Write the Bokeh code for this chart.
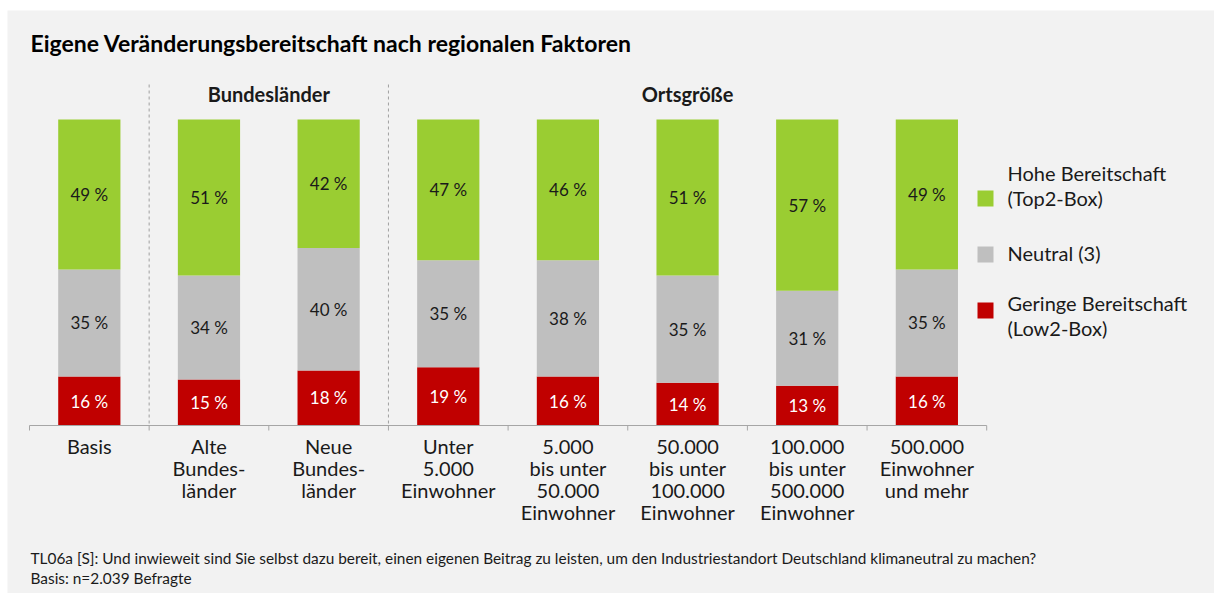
from bokeh.plotting import figure
from bokeh.models import Range1d
from bokeh.core.properties import value
from bokeh.embed import file_html
from bokeh.resources import INLINE

# ---------------- data ----------------
categories = [
    "Basis",
    "Alte\nBundes-\nländer",
    "Neue\nBundes-\nländer",
    "Unter\n5.000\nEinwohner",
    "5.000\nbis unter\n50.000\nEinwohner",
    "50.000\nbis unter\n100.000\nEinwohner",
    "100.000\nbis unter\n500.000\nEinwohner",
    "500.000\nEinwohner\nund mehr",
]
low = [16, 15, 18, 19, 16, 14, 13, 16]        # Geringe Bereitschaft (Low2-Box)
neutral = [35, 34, 40, 35, 38, 35, 31, 35]    # Neutral (3)
high = [49, 51, 42, 47, 46, 51, 57, 49]       # Hohe Bereitschaft (Top2-Box)
series_names = ["Hohe Bereitschaft\n(Top2-Box)", "Neutral (3)", "Geringe Bereitschaft\n(Low2-Box)"]
groups = ["Bundesländer", "Ortsgröße"]
group_bounds = [(1, 3), (3, 8)]
title = "Eigene Veränderungsbereitschaft nach regionalen Faktoren"
footnote = ["TL06a [S]: Und inwieweit sind Sie selbst dazu bereit, einen eigenen Beitrag zu leisten, um den Industriestandort Deutschland klimaneutral zu machen?",
            "Basis: n=2.039 Befragte"]

# ---------------- styles / layout ----------------
GREEN, GRAY, RED = "#9acd32", "#bfbfbf", "#c00000"
BG = "#f2f2f2"
FONT = "Lato"
TXT = "#1a1a1a"
W, H = 1214, 593
XS = 119.65      # px per category
X0 = 29          # px of category boundary 0
YS = 3.06        # px per percent
Y0 = 425         # px (from top) of value 0

def X(px):
    return (px - X0) / XS

def Y(py):
    return (Y0 - py) / YS

p = figure(width=W, height=H, output_backend="svg", toolbar_location=None,
           x_range=Range1d(X(0), X(W)), y_range=Range1d(Y(H), Y(0)),
           min_border=0, background_fill_color="white", border_fill_color="white")
p.axis.visible = False
p.grid.visible = False
p.outline_line_color = None

# panel background
p.quad(left=[X(7)], right=[X(W + 5)], top=[Y(10)], bottom=[Y(H + 5)], fill_color=BG, line_color=None)

n = len(categories)
xc = [i + 0.5 for i in range(n)]
b1 = low
t2 = [l + m for l, m in zip(low, neutral)]
t3 = [min(100, a + h) for a, h in zip(t2, high)]

bw = 0.52
p.vbar(x=xc, bottom=0, top=b1, width=bw, fill_color=RED, line_color=None)
p.vbar(x=xc, bottom=b1, top=t2, width=bw, fill_color=GRAY, line_color=None)
p.vbar(x=xc, bottom=t2, top=t3, width=bw, fill_color=GREEN, line_color=None)

lab = dict(text_font=value(FONT), text_font_size="17px", text_align="center", text_baseline="middle")
p.text(x=xc, y=[b / 2 for b in b1], text=[f"{v} %" for v in low], text_color="white", **lab)
p.text(x=xc, y=[(a + b) / 2 for a, b in zip(b1, t2)], text=[f"{v} %" for v in neutral], text_color=TXT, **lab)
p.text(x=xc, y=[(a + b) / 2 for a, b in zip(t2, t3)], text=[f"{v} %" for v in high], text_color=TXT, **lab)

# axis line and ticks
AX = "#a6a6a6"
p.segment(x0=[0], y0=[0], x1=[n], y1=[0], line_color=AX, line_width=1)
p.segment(x0=list(range(n + 1)), y0=[0] * (n + 1), x1=list(range(n + 1)), y1=[Y(430)] * (n + 1),
          line_color=AX, line_width=1)

# group separators
seps = [1, 3]
p.segment(x0=seps, y0=[Y(84)] * 2, x1=seps, y1=[0] * 2, line_color="#a0a0a0", line_width=1, line_dash="3 3")

# category labels
p.text(x=xc, y=[Y(433)] * n, text=categories, text_font=value(FONT), text_font_size="20px",
       text_align="center", text_baseline="top", text_line_height=0.92, text_color=TXT)

# group labels
p.text(x=[(a + b) / 2 for a, b in group_bounds], y=[Y(93)] * 2, text=groups, text_font=value(FONT),
       text_font_size="20px", text_font_style="bold", text_align="center", text_baseline="middle",
       text_color=TXT)

# title
p.text(x=[X(30)], y=[Y(42)], text=[title], text_font=value(FONT), text_font_size="23px",
       text_font_style="bold", text_align="left", text_baseline="middle", text_color="#000000")

# legend
leg_y = [198, 254, 310]
leg_top = [160, 240, 290]
p.scatter(x=[X(985)] * 3, y=[Y(v) for v in leg_y], marker="square", size=16,
          fill_color=[GREEN, GRAY, RED], line_color=None)
p.text(x=[X(1007)] * 3, y=[Y(v) for v in leg_top], text=series_names, text_font=value(FONT),
       text_font_size="20px", text_align="left", text_baseline="top", text_line_height=1.08,
       text_color=TXT)

# footnote
p.text(x=[X(30)] * 2, y=[Y(557), Y(577)], text=footnote, text_font=value(FONT), text_font_size="15.4px",
       text_align="left", text_baseline="middle", text_color=TXT)

open("out.html", "w").write(file_html(p, INLINE))
